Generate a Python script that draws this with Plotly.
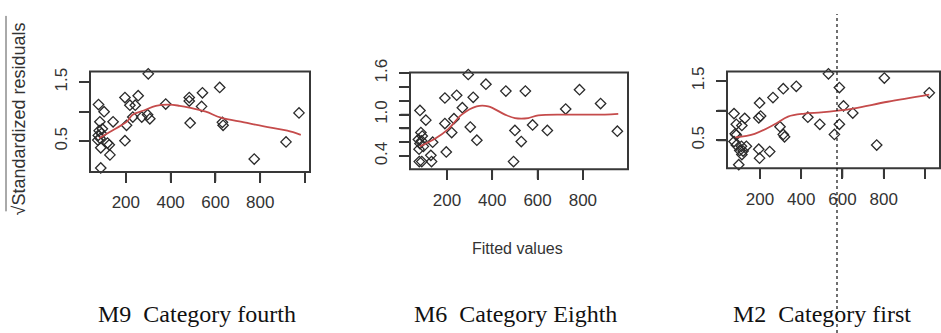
import plotly.graph_objects as go

# ---------------- data ----------------
m9_x = [300, 619, 542, 483, 483, 196, 255, 218, 242, 78, 103, 378, 538, 231, 271, 297, 307,
        143, 203, 84, 487, 631, 634, 973, 196, 915, 773, 88, 126, 129, 88, 81, 77, 85, 75, 91, 95, 118]
m9_y = [1.64, 1.41, 1.32, 1.24, 1.18, 1.24, 1.27, 1.11, 1.11, 1.12, 1.00, 1.13, 1.09, 0.91, 0.91, 0.95, 0.88,
        0.83, 0.77, 0.83, 0.81, 0.82, 0.77, 0.98, 0.51, 0.49, 0.20, 0.05, 0.44, 0.27, 0.39, 0.68, 0.60, 0.55, 0.52, 0.63, 0.71, 0.47]
m9_fit_x = [81, 130, 180, 207, 230, 280, 334, 394, 440, 483, 557, 624, 728, 847, 921, 981]
m9_fit_y = [0.55, 0.66, 0.77, 0.84, 0.95, 1.02, 1.10, 1.12, 1.10, 1.07, 1.00, 0.90, 0.82, 0.73, 0.68, 0.61]

m6_x = [294, 372, 460, 546, 785, 878, 724, 191, 243, 316, 268, 81, 107, 231, 191, 303, 221, 500, 578, 643,
        952, 332, 528, 137, 197, 494, 129, 132, 78, 89, 85, 91, 74, 81, 96, 77, 88]
m6_y = [1.58, 1.44, 1.34, 1.34, 1.36, 1.16, 1.08, 1.24, 1.28, 1.25, 1.10, 1.06, 0.92, 0.94, 0.87, 0.82, 0.74, 0.77, 0.85, 0.77,
        0.76, 0.63, 0.61, 0.60, 0.46, 0.32, 0.41, 0.32, 0.32, 0.32, 0.74, 0.69, 0.64, 0.58, 0.54, 0.50, 0.62]
m6_fit_x = [81, 147, 206, 265, 331, 382, 456, 500, 559, 603, 750, 897, 956]
m6_fit_y = [0.54, 0.65, 0.79, 1.00, 1.12, 1.12, 1.00, 0.95, 0.95, 0.99, 1.00, 1.00, 1.01]

m2_x = [532, 803, 585, 376, 313, 263, 198, 1021, 605, 650, 432, 194, 203, 490, 585, 297, 313, 319, 561,
        766, 247, 194, 198, 97, 74, 126, 85, 112, 80, 85, 74, 134, 102, 118, 85, 112, 110]
m2_y = [1.62, 1.55, 1.39, 1.41, 1.37, 1.22, 1.13, 1.30, 1.08, 0.96, 0.89, 0.88, 0.91, 0.77, 0.77, 0.73, 0.60, 0.56, 0.60,
        0.42, 0.31, 0.35, 0.20, 0.09, 0.95, 0.87, 0.77, 0.75, 0.61, 0.59, 0.48, 0.40, 0.33, 0.32, 0.42, 0.26, 0.40]
m2_fit_x = [81, 174, 271, 336, 416, 497, 577, 658, 819, 1021]
m2_fit_y = [0.55, 0.61, 0.77, 0.90, 0.95, 0.97, 1.00, 1.04, 1.15, 1.27]

x_tickvals = [200, 400, 600, 800, 1000]
x_ticktext = ["200", "400", "600", "800", ""]
y_tickvals_a = [0.5, 1.0, 1.5]
y_ticktext_a = ["0.5", "", "1.5"]
y_tickvals_b = [0.4, 0.6, 0.8, 1.0, 1.2, 1.4, 1.6]
y_ticktext_b = ["0.4", "", "", "1.0", "", "", "1.6"]

captions = ["M9\u00a0 Category fourth", "M6\u00a0 Category Eighth", "M2\u00a0 Category first"]
x_title = "Fitted values"
y_title = "\u221aStandardized residuals"

# ---------------- figure ----------------
W, H = 941, 333
TICKFONT = dict(family="Liberation Sans, Arial", size=17, color="#333")
AX = "#383838"
TICKLEN = 10

panels = [
    dict(x=m9_x, y=m9_y, fx=m9_fit_x, fy=m9_fit_y, dom_x=(90, 310), dom_y=(60, 165),
         xr=[40, 1022], yr=[-0.02, 1.68], yt=(y_tickvals_a, y_ticktext_a)),
    dict(x=m6_x, y=m6_y, fx=m6_fit_x, fy=m6_fit_y, dom_x=(410, 628), dom_y=(61, 162),
         xr=[37, 999], yr=[0.21, 1.61], yt=(y_tickvals_b, y_ticktext_b)),
    dict(x=m2_x, y=m2_y, fx=m2_fit_x, fy=m2_fit_y, dom_x=(727, 940), dom_y=(60, 161),
         xr=[40, 1073], yr=[0.03, 1.66], yt=(y_tickvals_a, y_ticktext_a)),
]

fig = go.Figure()
layout = dict(width=W, height=H, margin=dict(l=0, r=0, t=0, b=0, pad=0), autosize=False,
              paper_bgcolor="white", plot_bgcolor="rgba(0,0,0,0)", showlegend=False)

shapes = []
ann = []
for i, p in enumerate(panels, start=1):
    sfx = "" if i == 1 else str(i)
    xa, ya = "x" + sfx, "y" + sfx
    fig.add_trace(go.Scatter(x=p["x"], y=p["y"], mode="markers",
                             marker=dict(symbol="diamond-open", size=8, color="#2a2a2a",
                                         line=dict(width=1.3, color="#2a2a2a")),
                             xaxis=xa, yaxis=ya, cliponaxis=False))
    fig.add_trace(go.Scatter(x=p["fx"], y=p["fy"], mode="lines", line_shape="spline",
                             line=dict(color="#c54b4b", width=1.8),
                             xaxis=xa, yaxis=ya))
    layout["xaxis" + sfx] = dict(
        domain=[p["dom_x"][0] / W, p["dom_x"][1] / W], range=p["xr"], anchor=ya,
        tickmode="array", tickvals=x_tickvals, ticktext=x_ticktext,
        showgrid=False, zeroline=False, showline=False,
        ticks="outside", ticklen=TICKLEN, tickwidth=1.5, tickcolor=AX, tickfont=TICKFONT,
        ticklabelstandoff=5)
    layout["yaxis" + sfx] = dict(
        domain=[1 - p["dom_y"][1] / H, 1 - p["dom_y"][0] / H], range=p["yr"], anchor=xa,
        tickmode="array", tickvals=p["yt"][0], ticktext=p["yt"][1], tickangle=-90,
        showgrid=False, zeroline=False, showline=False,
        ticks="outside", ticklen=TICKLEN, tickwidth=1.5, tickcolor=AX, tickfont=TICKFONT,
        ticklabelstandoff=5)
    # R-style box around the panel
    shapes.append(dict(type="rect", xref=xa + " domain", yref=ya + " domain",
                       x0=0, x1=1, y0=0, y1=1, line=dict(color=AX, width=2),
                       fillcolor="rgba(0,0,0,0)", layer="above"))
    # tick marks as short annotation stems, positioned by the axes' own scales
    for v in x_tickvals:
        if p["xr"][0] <= v <= p["xr"][1]:
            ann.append(dict(x=v, xref=xa, y=0, yref=ya + " domain", text="", showarrow=True,
                            arrowhead=0, arrowwidth=1.6, arrowcolor=AX, axref="pixel", ayref="pixel",
                            ax=0, ay=TICKLEN, standoff=0, startstandoff=0, borderpad=0,
                            font=dict(size=1)))
    for v in p["yt"][0]:
        if p["yr"][0] <= v <= p["yr"][1]:
            ann.append(dict(x=0, xref=xa + " domain", y=v, yref=ya, text="", showarrow=True,
                            arrowhead=0, arrowwidth=1.6, arrowcolor=AX, axref="pixel", ayref="pixel",
                            ax=-TICKLEN, ay=0, standoff=0, startstandoff=0, borderpad=0,
                            font=dict(size=1)))

fig.update_layout(**layout)

# radical overline and the dotted vertical rule crossing the third panel
shapes.append(dict(type="line", xref="paper", yref="paper", x0=6 / W, x1=6 / W, y0=1 - 2 / H, y1=1 - 206 / H,
                   line=dict(color="#555", width=1)))
shapes.append(dict(type="line", xref="paper", yref="paper", x0=837 / W, x1=837 / W, y0=0, y1=1,
                   line=dict(color="#111", width=1.2, dash="dot")))
fig.update_layout(shapes=shapes)

ann.append(dict(text=y_title, x=19 / W, y=1 - 110 / H, xref="paper", yref="paper",
                xanchor="center", yanchor="middle", textangle=-90, showarrow=False,
                font=dict(family="Liberation Sans, Arial", size=18, color="#333")))
ann.append(dict(text=x_title, x=517 / W, y=1 - 245 / H, xref="paper", yref="paper",
                xanchor="center", yanchor="middle", showarrow=False,
                font=dict(family="Liberation Sans, Arial", size=16, color="#333")))
for cx, txt in zip([197, 515, 822], captions):
    ann.append(dict(text=txt, x=cx / W, y=1 - 313 / H, xref="paper", yref="paper",
                    xanchor="center", yanchor="middle", showarrow=False,
                    font=dict(family="Liberation Serif, Times New Roman, serif", size=24, color="#111")))
fig.update_layout(annotations=ann)

fig.write_html("out.html", config={"displayModeBar": False},
               post_script="document.body.style.margin='0px';")
